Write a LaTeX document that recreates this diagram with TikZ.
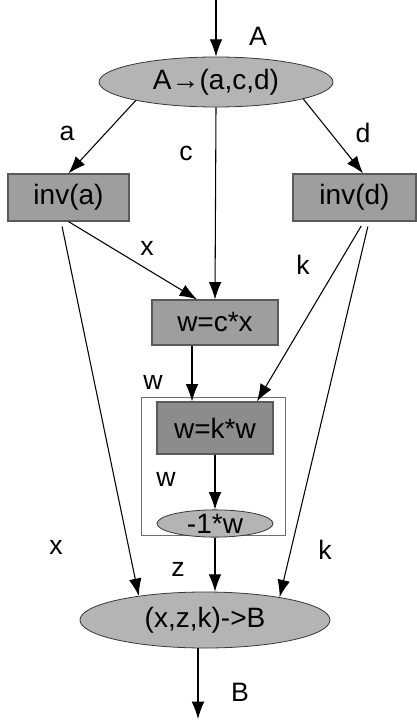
\documentclass[tikz,border=0pt]{standalone}
\usepackage{fontspec}
\setmainfont{Liberation Sans}
\usetikzlibrary{arrows.meta,shapes.geometric}
\definecolor{boxfill}{RGB}{158,158,158}
\definecolor{boxfilldark}{RGB}{140,140,140}
\definecolor{ellfill}{RGB}{180,180,180}
\definecolor{boxline}{RGB}{90,90,90}
\definecolor{ellline}{RGB}{55,55,55}
\definecolor{grpline}{RGB}{110,110,110}
\begin{document}
\begin{tikzpicture}[x=0.75pt,y=-0.75pt,
  every node/.style={font=\fontsize{21}{25}\selectfont},
  flow/.style={draw=black, line width=0.8pt, -{Latex[length=13pt,width=9.5pt]}},
  opbox/.style={rectangle, draw=boxline, fill=boxfill, line width=0.9pt, inner sep=0pt},
  opell/.style={ellipse, draw=ellline, fill=ellfill, line width=0.6pt, inner sep=0pt},
  lbl/.style={inner sep=0pt, font=\fontsize{20}{24}\selectfont},
  group/.style={rectangle, draw=grpline, line width=0.6pt, inner sep=0pt}]
\useasboundingbox (0,0) rectangle (417,720);

% subgroup frame around the scaling steps
\node[group, minimum width=108pt, minimum height=103.5pt] (grp) at (213,466) {};

% operations
\node[opell, minimum width=175.5pt, minimum height=37.5pt] (e1) at (216,82) {A→(a,c,d)};
\node[opbox, minimum width=90.75pt, minimum height=35.25pt] (inva) at (68.5,197.5) {inv(a)};
\node[opbox, minimum width=92.25pt, minimum height=35.25pt] (invd) at (354.5,197.5) {inv(d)};
\node[opbox, minimum width=94.5pt, minimum height=33.75pt] (wcx) at (215,322.5) {w=c*x};
\node[opbox, fill=boxfilldark, minimum width=87pt, minimum height=39pt] (wkw) at (215,428) {w=k*w};
\node[opell, minimum width=87pt, minimum height=20.25pt] (neg) at (215,523.5) {-1*w};
\node[opell, minimum width=187.5pt, minimum height=42pt] (e2) at (205,620) {(x,z,k)->B};

% free ends of the input and output arrows
\coordinate (src) at (216,0);
\coordinate (snk) at (198,719);

% data flow
\draw[flow] (src) -- (e1.north);
\draw[flow] (e1.193) -- (inva.north);
\draw[flow] (e1.south) -- (wcx.north);
\draw[flow] (e1.349) -- ([xshift=6.4pt]invd.north);
\draw[flow] (inva.south) -- ([xshift=-13.5pt]wcx.north);
\draw[flow, shorten <=3.75pt] ([xshift=-5.6pt]inva.south) -- (e2.160);
\draw[flow, shorten <=3.75pt] ([xshift=7pt]invd.south) -- ([xshift=31.5pt]wkw.north);
\draw[flow, shorten <=3.75pt] ([xshift=10.9pt]invd.south) -- (e2.17);
\draw[flow] ([xshift=-17.25pt]wcx.south) -- ([xshift=-17.25pt]wkw.north);
\draw[flow] (wkw.south) -- (neg.north);
\draw[flow] (neg.south) -- (neg.south |- e2.north);
\draw[flow] (snk |- e2.south) -- (snk);

% edge labels
\node[lbl] (lA) at (258,36) {A};
\node[lbl] (la) at (67,133) {a};
\node[lbl] (lc) at (186,153) {c};
\node[lbl] (ld) at (363,133) {d};
\node[lbl] (lx1) at (147,248) {x};
\node[lbl] (lk1) at (303,265) {k};
\node[lbl] (lw1) at (153,382) {w};
\node[lbl] (lw2) at (166,479) {w};
\node[lbl] (lx2) at (56,547) {x};
\node[lbl] (lz) at (178,569) {z};
\node[lbl] (lk2) at (325,550) {k};
\node[lbl] (lB) at (240,692) {B};
\end{tikzpicture}
\end{document}
